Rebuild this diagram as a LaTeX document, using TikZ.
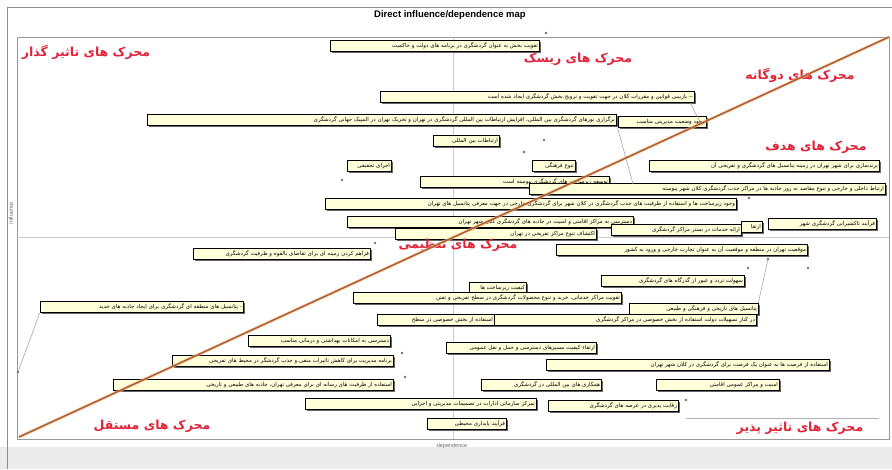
\documentclass[tikz,border=0pt]{standalone}
\usepackage{fontspec}
\setmainfont{Liberation Sans}
\newfontfamily\fa[Script=Arabic]{DejaVu Sans}
\TeXXeTstate=1
\usetikzlibrary{shadows}
\definecolor{boxfill}{RGB}{255,255,218}
\definecolor{zone}{RGB}{226,36,56}
\definecolor{diag}{RGB}{176,96,56}
\tikzset{
every picture/.style={
line width=0.5pt
}}
\newcommand{\fr}[1]{{\fa\beginR #1\endR}}

\begin{document}
\begin{tikzpicture}[x=1pt, y=-1pt,
box/.style = {draw=black, fill=boxfill, line width=0.7pt, minimum height=11.5pt, inner sep=1pt, align=right,
  font=\fa\fontsize{5.5}{6}\selectfont,
  drop shadow={shadow xshift=1.5pt, shadow yshift=-1.5pt, fill=black!60, opacity=1}},
zonelbl/.style = {text=zone, font=\fa\bfseries\fontsize{12.5}{14}\selectfont},
dot/.style = {circle, fill=black!55, inner sep=0pt, minimum size=2.6pt},
lead/.style = {draw=black!35, line width=0.6pt}]

\useasboundingbox (0,0) rectangle (892,469);
\fill[black!8] (0,447) rectangle (892,469);
\draw[black!45, line width=1pt] (7,469) -- (7,7) -- (892,7);
\fill[white] (17,37) rectangle (889,439);
\draw[black!40, line width=0.8pt] (17,37) rectangle (889,439);
\draw[black!20, line width=0.8pt] (453,37) -- (453,439);
\draw[black!20, line width=0.8pt] (17,237) -- (889,237);
\draw[black!30] (686,418) -- (879,418);

\node [font=\bfseries\fontsize{9.5}{11}\selectfont] at (450,15) (title) {Direct influence/dependence map};
\node [font=\fontsize{5.5}{6}\selectfont, text=black!60, rotate=90] at (11,213) (infl) {influence};
\node [font=\fontsize{5.5}{6}\selectfont, text=black!60] at (452,446) (dep) {dependence};

\node [box, text width=207pt] at (434.5,46) (a) {\fr{تقویت بخش به عنوان گردشگری در برنامه های دولت و حاکمیت}};
\node [box, text width=312pt] at (537,97) (b) {\fr{-- بازبینی قوانین و مقررات کلان در جهت تقویت و ترویج بخش گردشگری ایجاد شده است}};
\node [box, text width=467pt] at (381.5,120) (c) {\fr{برگزاری تورهای گردشگری بین المللی، افزایش ارتباطات بین المللی گردشگری در تهران و تحریک تهران در المپیک جهانی گردشگری}};
\node [box, text width=86pt] at (662,122) (d) {\fr{وجود وضعیت مدیریتی مناسب}};
\node [box, text width=64pt] at (466,141) (e) {\fr{ارتباطات بین المللی}};
\node [box, text width=42pt] at (369,166) (f) {\fr{اجرای تحقیقی}};
\node [box, text width=41pt] at (553.5,166) (h) {\fr{تنوع فرهنگی}};
\node [box, text width=228pt] at (764,166) (i) {\fr{برندسازی برای شهر تهران در زمینه پتانسیل های گردشگری و تفریحی آن}};
\node [box, text width=187pt] at (514.5,182) (g) {\fr{توسعه زیرساخت های گردشگری پیوسته است}};
\node [box, text width=354pt] at (707,189) (j) {\fr{ارتباط داخلی و خارجی و تنوع مقاصد به روز جاذبه ها در مراکز جذب گردشگری کلان شهر پیوسته}};
\node [box, text width=409pt] at (530.5,204) (k) {\fr{وجود زیرساخت ها و استفاده از ظرفیت های جذب گردشگری در کلان شهر برای گردشگری خارجی در جهت معرفی پتانسیل های تهران}};
\node [box, text width=284pt] at (490,222) (l) {\fr{دسترسی به مراکز اقامتی و امنیت در جاذبه های گردشگری کلان شهر تهران}};
\node [box, text width=128pt] at (676,230) (m) {\fr{ارائه خدمات در بستر مراکز گردشگری}};
\node [box, text width=19pt] at (751.5,227) (n) {\fr{ارتقا}};
\node [box, text width=106pt] at (822,224) (o) {\fr{فرآیند تاکسیرانی گردشگری شهر}};
\node [box, text width=199pt] at (495.5,234) (r) {\fr{اکتشاف تنوع مراکز تفریحی در تهران}};
\node [box, text width=175pt] at (281.5,254) (p) {\fr{فراهم کردن زمینه ای برای تقاضای بالقوه و ظرفیت گردشگری}};
\node [box, text width=249pt] at (681.5,250) (q) {\fr{موقعیت تهران در منطقه و موقعیت آن به عنوان تجارت خارجی و ورود به کشور}};
\node [box, text width=141pt] at (672.5,281) (s) {\fr{سهولت تردد و عبور از گذرگاه های گردشگری}};
\node [box, text width=55pt] at (497.5,288) (u) {\fr{کیفیت زیرساخت ها}};
\node [box, text width=266pt] at (487,298) (t) {\fr{تقویت مراکز خدماتی، خرید و تنوع محصولات گردشگری در سطح تفریحی و تفنن}};
\node [box, text width=127pt] at (693.5,309) (v) {\fr{پتانسیل های تاریخی و فرهنگی و طبیعی}};
\node [box, text width=115pt] at (435.5,320) (w1) {\fr{استفاده از بخش خصوصی در سطح}};
\node [box, text width=260pt] at (625,320) (w2) {\fr{در کنار تسهیلات دولت استفاده از بخش خصوصی در مراکز گردشگری}};
\node [box, text width=140pt] at (319,341) (x) {\fr{دسترسی به امکانات بهداشتی و درمانی مناسب}};
\node [box, text width=148pt] at (521,348) (y) {\fr{ارتقاء کیفیت مسیرهای دسترسی و حمل و نقل عمومی}};
\node [box, text width=219pt] at (282.5,361) (z) {\fr{برنامه مدیریت برای کاهش تاثیرات منفی و جذب گردشگر در محیط های تفریحی}};
\node [box, text width=281pt] at (687.5,365) (ad) {\fr{استفاده از فرصت ها به عنوان یک فرصت برای گردشگری در کلان شهر تهران}};
\node [box, text width=278pt] at (253,385) (aa) {\fr{استفاده از ظرفیت های رسانه ای برای معرفی تهران، جاذبه های طبیعی و تاریخی}};
\node [box, text width=118pt] at (541,385) (ae) {\fr{همکاری های بین المللی در گردشگری}};
\node [box, text width=121pt] at (717.5,385) (af) {\fr{امنیت و مراکز عمومی اقامتی}};
\node [box, text width=229pt] at (420.5,404) (ab) {\fr{تمرکز سازمانی ادارات در تصمیمات مدیریتی و اجرایی}};
\node [box, text width=128pt] at (613,406) (ag) {\fr{رقابت پذیری در عرصه های گردشگری}};
\node [box, text width=77pt] at (466.5,424) (ac) {\fr{فرآیند پایداری محیطی}};
\node [box, text width=201pt] at (141.5,307) (lb) {\fr{- پتانسیل های منطقه ای گردشگری برای ایجاد جاذبه های جدید}};

\node [dot] at (546,33) (d1) {};
\node [dot] at (544,140) (d2) {};
\node [dot] at (524,152) (d3) {};
\node [dot] at (342,180) (d4) {};
\node [dot] at (375,243) (d5) {};
\node [dot] at (768,259) (d6) {};
\node [dot] at (808,268) (d7) {};
\node [dot] at (748,268) (d8) {};
\node [dot] at (402,353) (d9) {};
\node [dot] at (405,377) (d10) {};
\node [dot] at (686,400) (d11) {};
\node [dot] at (18,372) (d12) {};
\node [dot] at (749,198) (d13) {};
\node [dot] at (700,122) (d14) {};
\coordinate (j1) at (633,184);

\draw[lead] ([xshift=-4pt]b.south east) -- (d14);
\draw[lead] (d.south west) -- (j1);
\draw[lead] (d6) -- (v.north east);
\draw[lead] (lb.south west) -- (d12);

\node [zonelbl] at (86,52) (z1) {\fr{محرک های تاثیر گذار}};
\node [zonelbl] at (578,59) (z2) {\fr{محرک های ریسک}};
\node [zonelbl] at (800,75) (z3) {\fr{محرک های دوگانه}};
\node [zonelbl] at (816,147) (z4) {\fr{محرک های هدف}};
\node [zonelbl] at (458,245) (z5) {\fr{محرک های تنظیمی}};
\node [zonelbl] at (152,426) (z6) {\fr{محرک های مستقل}};
\node [zonelbl] at (800,428) (z7) {\fr{محرک های تاثیر پذیر}};

\draw[orange!45, line width=3.2pt, opacity=0.6] (19,437) -- (889,37);
\draw[diag, line width=1.6pt] (19,437) -- (889,37);

\end{tikzpicture}
\end{document}
